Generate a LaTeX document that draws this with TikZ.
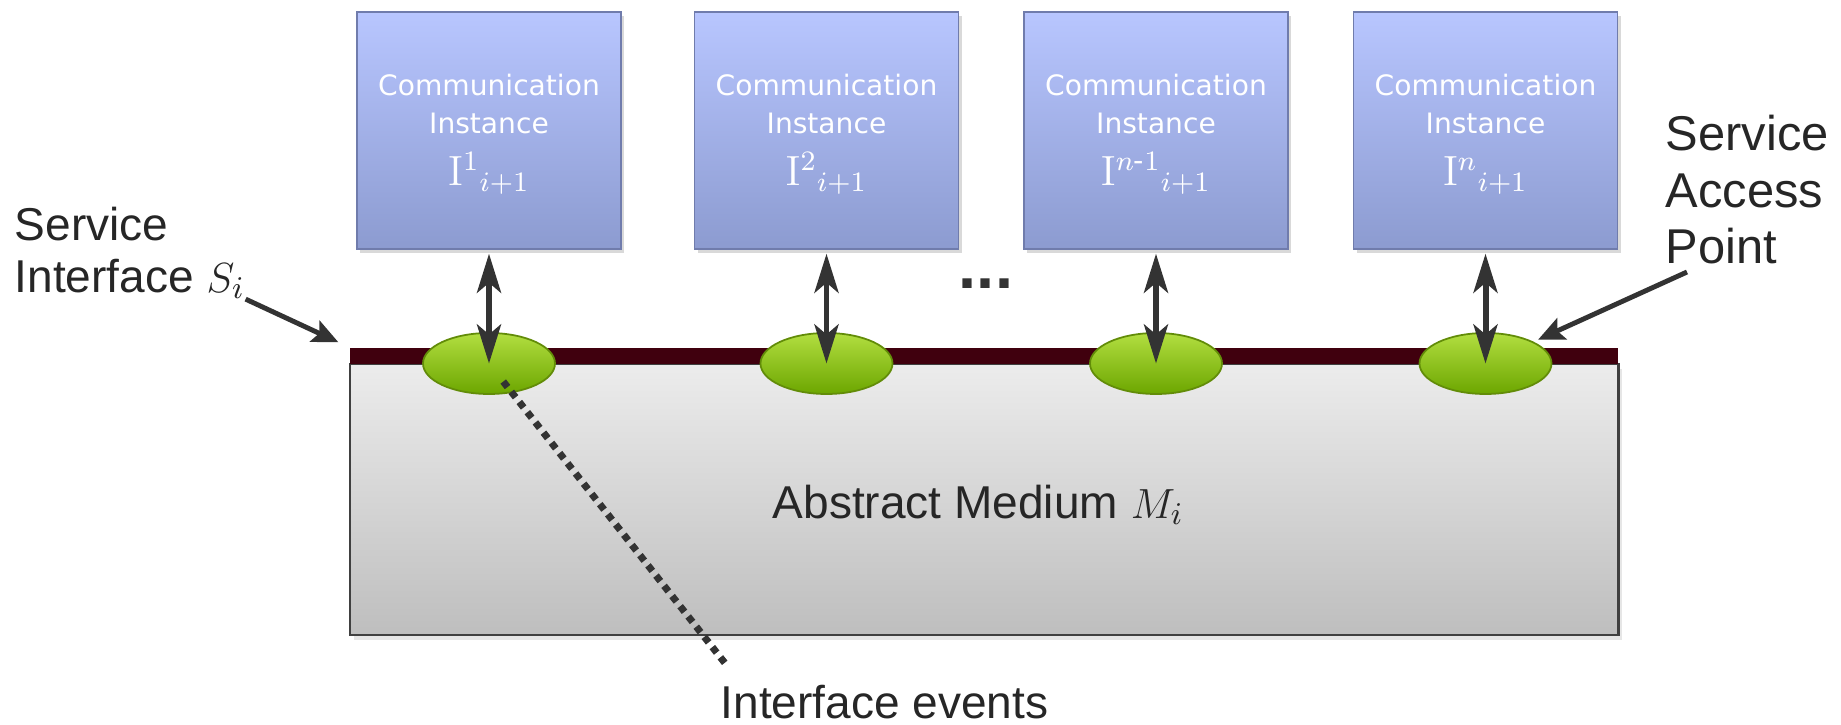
\documentclass[tikz,border=0pt]{standalone}
\usepackage{amsmath}
\usepackage[no-math]{fontspec}
\setmainfont{Liberation Sans}
\newfontfamily\boxfont{DejaVu Sans}
\usepackage{tikz}
\usetikzlibrary{positioning,arrows.meta,shapes.geometric,shadows}
\definecolor{labelgray}{RGB}{38,38,38}
\definecolor{arrowgray}{RGB}{51,51,51}
\definecolor{instbluetop}{RGB}{184,198,255}
\definecolor{instbluebot}{RGB}{140,155,208}
\definecolor{instedge}{RGB}{112,124,172}
\definecolor{saptop}{RGB}{178,222,64}
\definecolor{sapbot}{RGB}{108,166,0}
\definecolor{sapedge}{RGB}{98,140,8}
\definecolor{barred}{RGB}{64,0,14}
\definecolor{mediumtop}{RGB}{236,236,236}
\definecolor{mediumbot}{RGB}{190,190,190}
\definecolor{mediumedge}{RGB}{64,64,64}
\tikzset{
  instance-node/.style={draw=instedge, line width=0.4pt, top color=instbluetop,
    bottom color=instbluebot, minimum width=2.64cm, minimum height=2.37cm,
    inner sep=0pt,
    drop shadow={shadow xshift=0.3mm, shadow yshift=-0.4mm, opacity=0.3}},
  instance-text/.style={align=center, text=white, inner sep=0pt,
    font=\boxfont\fontsize{8}{10.8}\selectfont},
  sap-node/.style={ellipse, draw=sapedge, line width=0.5pt, top color=saptop,
    bottom color=sapbot, minimum width=1.32cm, minimum height=0.61cm, inner sep=0pt},
  medium-node/.style={draw=mediumedge, line width=0.85pt, top color=mediumtop,
    bottom color=mediumbot, minimum width=12.68cm, minimum height=2.71cm, inner sep=0pt,
    drop shadow={shadow xshift=0.4mm, shadow yshift=-0.5mm, opacity=0.2}},
  bar-node/.style={fill=barred, minimum width=12.68cm, minimum height=0.16cm, inner sep=0pt},
  access-arrow/.style={{Stealth[length=3.9mm,width=2.4mm,inset=1mm]}-{Stealth[length=3.9mm,width=2.4mm,inset=1mm]},
    line width=1.7pt, draw=arrowgray},
  pointer-arrow/.style={-{Stealth[length=2.6mm,width=2.3mm,inset=0.5mm]}, line width=1.4pt, draw=arrowgray},
  event-line/.style={draw=arrowgray, line width=0.7mm, dash pattern=on 0.7mm off 0.6mm},
  side-label/.style={align=left, text=labelgray, inner sep=0pt}
}
\begin{document}
\begin{tikzpicture}
\useasboundingbox (0,0) rectangle (18.41,7.24);

% Abstract medium with the service interface bar on top
\node[medium-node] (medium) at (9.84,2.245) {};
\node[bar-node] (bar) at (9.84,3.68) {};
\node[anchor=base west, inner sep=0pt, text=labelgray, font=\fontsize{13.1}{15}\selectfont]
  (medium-label) at (7.72,2.06) {Abstract Medium $M_i$};

% Service access points
\foreach \k/\x in {1/4.89, 2/8.265, 3/11.56, 4/14.855}
  \node[sap-node] (sap\k) at (\x,3.605) {};

% Interface events
\node[anchor=base west, inner sep=0pt, text=labelgray, font=\fontsize{13.1}{15}\selectfont]
  (events-label) at (7.20,0.06) {Interface events};
\coordinate (ev-end) at (7.28,0.57);
\draw[event-line, shorten <=0.23cm] (sap1.center) -- (ev-end);

% Communication instances
\foreach \k/\x/\idx in {1/4.89/1, 2/8.265/2, 3/11.56/{n\text{-}1}, 4/14.855/n}
{
  \node[instance-node] (inst\k) at (\x,5.935) {};
  \node[instance-text, below=0.62cm of inst\k.north] (inst\k-text)
    {Communication\\Instance\\[4pt]{\fontsize{11.6}{12}\selectfont$\mathrm{I}^{\idx}{}_{i+1}$}};
  \draw[access-arrow, shorten <=0.04cm] (inst\k.south) -- (sap\k.center);
}
\node[font=\bfseries\fontsize{18.5}{20}\selectfont, text=arrowgray, anchor=base, inner sep=0pt]
  (dots) at (9.86,4.35) {...};

% Side labels
\node[side-label, anchor=north west, font=\fontsize{13.1}{14.8}\selectfont]
  (sintf) at (0.14,5.18) {Service\\Interface $S_i$};
\draw[pointer-arrow, shorten >=0.12cm] (sintf.south east) -- (bar.north west);

\node[side-label, anchor=north west, font=\fontsize{13.9}{16.2}\selectfont]
  (saplabel) at (16.65,6.10) {Service\\Access\\Point};
\coordinate (sap-tail) at (16.87,4.52);
\draw[pointer-arrow, shorten >=0.05cm] (sap-tail) -- (sap4);
\end{tikzpicture}
\end{document}
